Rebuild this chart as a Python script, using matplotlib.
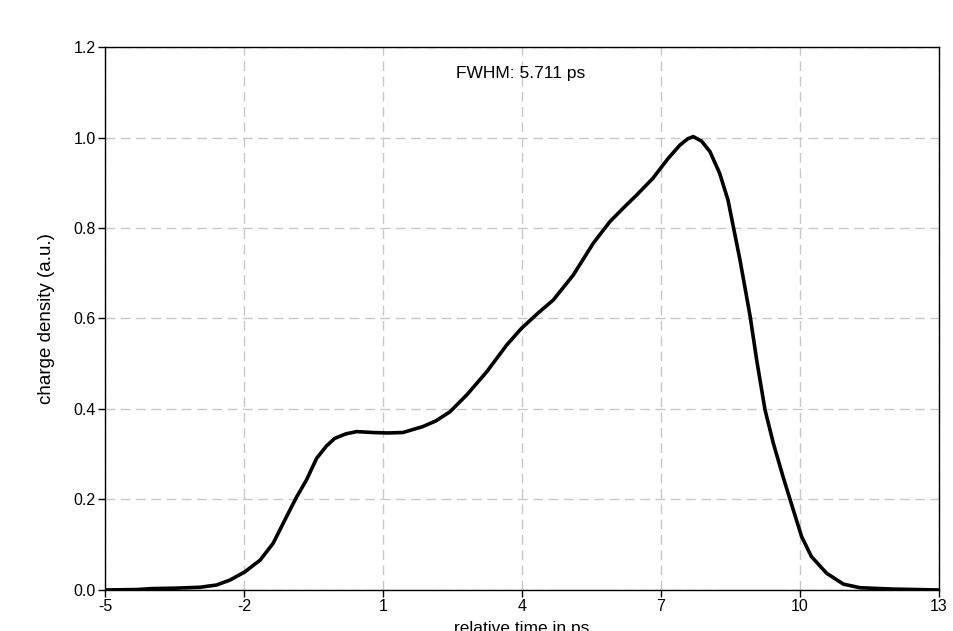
import matplotlib
matplotlib.use("Agg")
import matplotlib.pyplot as plt

plt.rcParams.update({"font.family": ["Liberation Sans", "DejaVu Sans"],
                     "font.size": 12, "axes.unicode_minus": False})

# charge density profile
time_ps = [-5.0, -4.3, -4.0, -3.5, -2.95, -2.59, -2.30, -1.98, -1.65, -1.37,
           -1.08, -0.86, -0.65, -0.43, -0.22, -0.04, 0.2, 0.43, 0.79, 1.1,
           1.43, 1.86, 2.15, 2.45, 2.81, 3.24, 3.67, 3.99, 4.35, 4.68, 5.11,
           5.54, 5.90, 6.2, 6.48, 6.83, 7.16, 7.41, 7.58, 7.70, 7.88, 8.06,
           8.27, 8.45, 8.71, 8.93, 9.07, 9.25, 9.43, 9.64, 9.86, 10.04,
           10.25, 10.58, 10.94, 11.3, 12.0, 13.0]
density = [0.0, 0.001, 0.003, 0.004, 0.006, 0.011, 0.022, 0.040, 0.066, 0.103,
           0.162, 0.206, 0.243, 0.291, 0.318, 0.335, 0.345, 0.350, 0.348, 0.347,
           0.348, 0.361, 0.374, 0.394, 0.431, 0.482, 0.541, 0.578, 0.612, 0.641,
           0.696, 0.766, 0.814, 0.845, 0.873, 0.910, 0.954, 0.983, 0.997, 1.002,
           0.992, 0.969, 0.921, 0.862, 0.729, 0.604, 0.508, 0.398, 0.324, 0.250,
           0.177, 0.118, 0.074, 0.037, 0.013, 0.005, 0.002, 0.0]

xticks = [-5, -2, 1, 4, 7, 10, 13]
yticks = [0.0, 0.2, 0.4, 0.6, 0.8, 1.0, 1.2]

fig = plt.figure(figsize=(9.54, 6.31), dpi=100)
ax = fig.add_axes([0.110, 0.065, 0.874, 0.8605])

ax.plot(time_ps, density, color="black", lw=2.6,
        solid_capstyle="round", solid_joinstyle="round")
ax.set_xlim(-5, 13)
ax.set_ylim(0, 1.2)
ax.set_xticks(xticks)
ax.set_yticks(yticks)
ax.set_yticklabels([f"{v:.1f}" for v in yticks])
ax.grid(True, color="#c8c8c8", ls=(0, (7, 4)), lw=1)
ax.tick_params(direction="out", length=5, width=1, color="black",
               labelsize=11.5, pad=1.5)
for s in ax.spines.values():
    s.set_linewidth(1)
    s.set_color("black")

ax.set_xlabel("relative time in ps", fontsize=12.5, va="top")
ax.xaxis.set_label_coords(0.5, -0.057)
ax.set_ylabel("charge density (a.u.)", fontsize=13.5)
ax.yaxis.set_label_coords(-0.060, 0.5)
ax.text(0.498, 0.952, "FWHM: 5.711 ps", transform=ax.transAxes,
        ha="center", va="center", fontsize=12.5)

fig.savefig("out.png", dpi=100)
